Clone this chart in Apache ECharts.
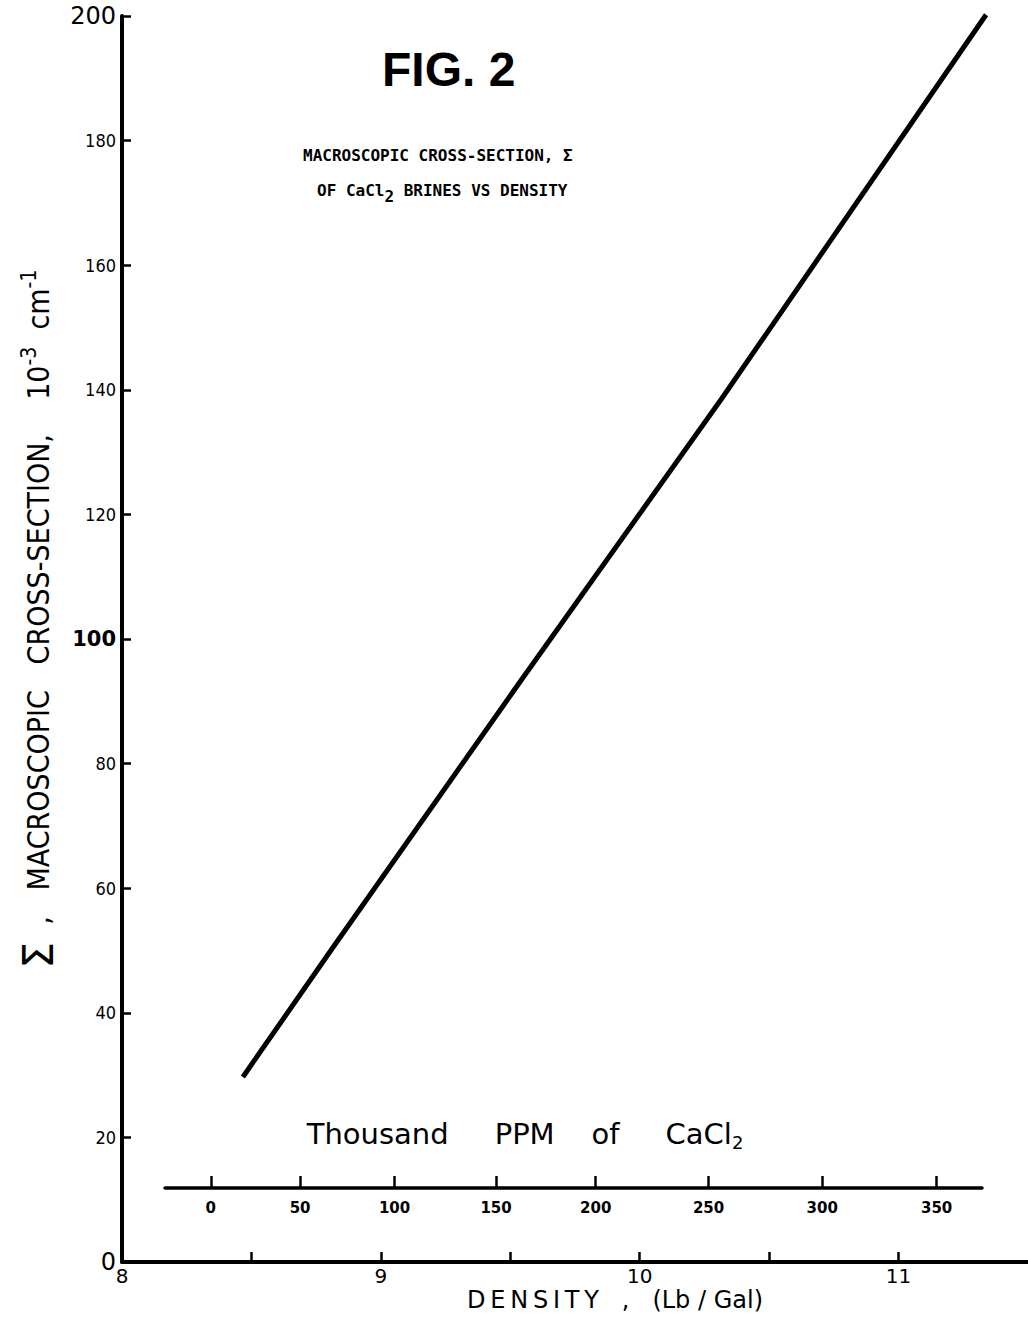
<!DOCTYPE html>
<html>
<head>
<meta charset="utf-8">
<title>FIG. 2</title>
<script src="https://cdn.jsdelivr.net/npm/echarts@6/dist/echarts.min.js"></script>
<style>
    html, body { margin: 0; padding: 0; background: #fff; }
    #fig2 { width: 1028px; height: 1322px; }
</style>
</head>
<body>
<div id="fig2"></div>
<script>
// 曲线上读出的点 (density lb/gal, sigma 10^-3 cm^-1)
var densityPts = [8.467, 8.810, 9.544, 10.317, 11.338];
var sigmaPts = [29.7, 50.2, 93.5, 138.6, 200.2];

// density axis
var densityTicks = [8, 8.5, 9, 9.5, 10, 10.5, 11];
var densityLabels = [8, 9, 10, 11];

// thousand ppm CaCl2 scale, placed at the density it corresponds to
var ppmLabels = ['0', '50', '100', '150', '200', '250', '300', '350'];
var ppmDensity = [8.343, 8.688, 9.053, 9.445, 9.830, 10.266, 10.705, 11.147];

var condensed = '"DejaVu Sans Condensed", "DejaVu Sans", sans-serif';

function chart(){
    var myChart = echarts.init(document.getElementById('fig2'), null, {renderer: 'svg'});

    var lineData = [];
    for (var i = 0; i < densityPts.length; i++) {
        lineData.push([densityPts[i], sigmaPts[i]]);
    }

    var option = {
        backgroundColor: '#fff',
        animation: false,
        title: [
            {
                text: 'FIG. 2',
                left: 377,
                top: 40,
                textStyle: {
                    fontFamily: 'Liberation Sans',
                    fontWeight: 'bold',
                    fontSize: 48,
                    color: '#000'
                }
            },
            {
                text: 'MACROSCOPIC CROSS-SECTION, Σ',
                left: 298,
                top: 142,
                textStyle: {
                    fontFamily: 'DejaVu Sans Mono',
                    fontWeight: 'bold',
                    fontSize: 16,
                    color: '#000'
                }
            },
            {
                text: 'OF CaCl{sub|2} BRINES VS DENSITY',
                left: 312,
                top: 171,
                textStyle: {
                    fontFamily: 'DejaVu Sans Mono',
                    fontWeight: 'bold',
                    fontSize: 16,
                    color: '#000',
                    rich: {
                        sub: {
                            fontFamily: 'DejaVu Sans Mono',
                            fontWeight: 'bold',
                            fontSize: 16,
                            color: '#000',
                            verticalAlign: 'top',
                            padding: [12, 0, 0, 0]
                        }
                    }
                }
            }
        ],
        grid: [
            {left: 122, right: 0, top: 16, bottom: 60},
            {left: 165, right: 46, top: 1187, height: 1}
        ],
        xAxis: [
            {
                gridIndex: 0,
                type: 'value',
                min: 8,
                max: 11.5,
                interval: 0.5,
                splitLine: {show: false},
                axisLine: {lineStyle: {color: '#000', width: 4}},
                axisTick: {
                    inside: true,
                    length: 10,
                    customValues: densityTicks,
                    lineStyle: {color: '#000', width: 2.5}
                },
                axisLabel: {
                    customValues: densityLabels,
                    margin: 4,
                    fontFamily: 'DejaVu Sans',
                    fontSize: 20,
                    color: '#000'
                },
                name: 'D\u2009E\u2009N\u2009S\u2009I\u2009T\u2009Y   ,   (Lb / Gal)',
                nameLocation: 'middle',
                nameGap: 26,
                nameMoveOverlap: false,
                nameTextStyle: {
                    fontFamily: 'DejaVu Sans',
                    fontSize: 24,
                    color: '#000',
                    padding: [0, 0, 0, 80]
                }
            },
            {
                gridIndex: 1,
                type: 'value',
                position: 'top',
                min: 8.1661,
                max: 11.3222,
                splitLine: {show: false},
                axisLine: {lineStyle: {color: '#000', width: 3.5}},
                axisTick: {
                    length: 12,
                    customValues: ppmDensity,
                    lineStyle: {color: '#000', width: 2.5}
                },
                axisLabel: {
                    inside: true,
                    margin: 13,
                    customValues: ppmDensity,
                    fontFamily: 'DejaVu Sans',
                    fontWeight: 'bold',
                    fontSize: 15,
                    color: '#000',
                    formatter: function (v) {
                        for (var k = 0; k < ppmDensity.length; k++) {
                            if (Math.abs(ppmDensity[k] - v) < 1e-6) return ppmLabels[k];
                        }
                        return '';
                    }
                },
                name: 'Thousand     PPM    of     CaCl{sub|2}',
                nameLocation: 'middle',
                nameGap: 36,
                nameTextStyle: {
                    fontFamily: 'DejaVu Sans',
                    fontSize: 29,
                    color: '#000',
                    padding: [0, 97, 0, 0],
                    rich: {
                        sub: {
                            fontFamily: 'DejaVu Sans',
                            fontSize: 18,
                            color: '#000',
                            verticalAlign: 'top',
                            padding: [17, 0, 0, 0]
                        }
                    }
                }
            }
        ],
        yAxis: [
            {
                gridIndex: 0,
                type: 'value',
                min: 0,
                max: 200,
                interval: 20,
                splitLine: {show: false},
                axisLine: {lineStyle: {color: '#000', width: 4}},
                axisTick: {
                    inside: true,
                    length: 9,
                    lineStyle: {color: '#000', width: 2.5}
                },
                axisLabel: {
                    margin: 6,
                    fontFamily: condensed,
                    fontSize: 18,
                    color: '#000',
                    formatter: function (v) {
                        if (v === 0 || v === 200) return '{big|' + v + '}';
                        if (v === 100) return '{mid|' + v + '}';
                        return v;
                    },
                    rich: {
                        big: {fontFamily: 'DejaVu Sans', fontSize: 24, color: '#000'},
                        mid: {fontFamily: 'DejaVu Sans', fontWeight: 'bold', fontSize: 21, color: '#000'}
                    }
                },
                name: '{sig|Σ}  ,   MACROSCOPIC   CROSS-SECTION,    10{sup|-3}  cm{sup|-1}',
                nameLocation: 'middle',
                nameGap: 60,
                nameTextStyle: {
                    fontFamily: condensed,
                    fontSize: 30,
                    color: '#000',
                    padding: [0, 0, 0, 40],
                    rich: {
                        sig: {fontFamily: 'DejaVu Sans', fontSize: 42, color: '#000'},
                        sup: {
                            fontFamily: condensed,
                            fontSize: 21,
                            color: '#000',
                            verticalAlign: 'bottom',
                            padding: [0, 0, 20, 0]
                        }
                    }
                }
            },
            {
                gridIndex: 1,
                type: 'value',
                show: false
            }
        ],
        series: [
            {
                type: 'line',
                xAxisIndex: 0,
                yAxisIndex: 0,
                data: lineData,
                symbol: 'none',
                clip: false,
                lineStyle: {color: '#000', width: 5}
            }
        ]
    };
    myChart.setOption(option);
}

chart();
</script>
</body>
</html>
